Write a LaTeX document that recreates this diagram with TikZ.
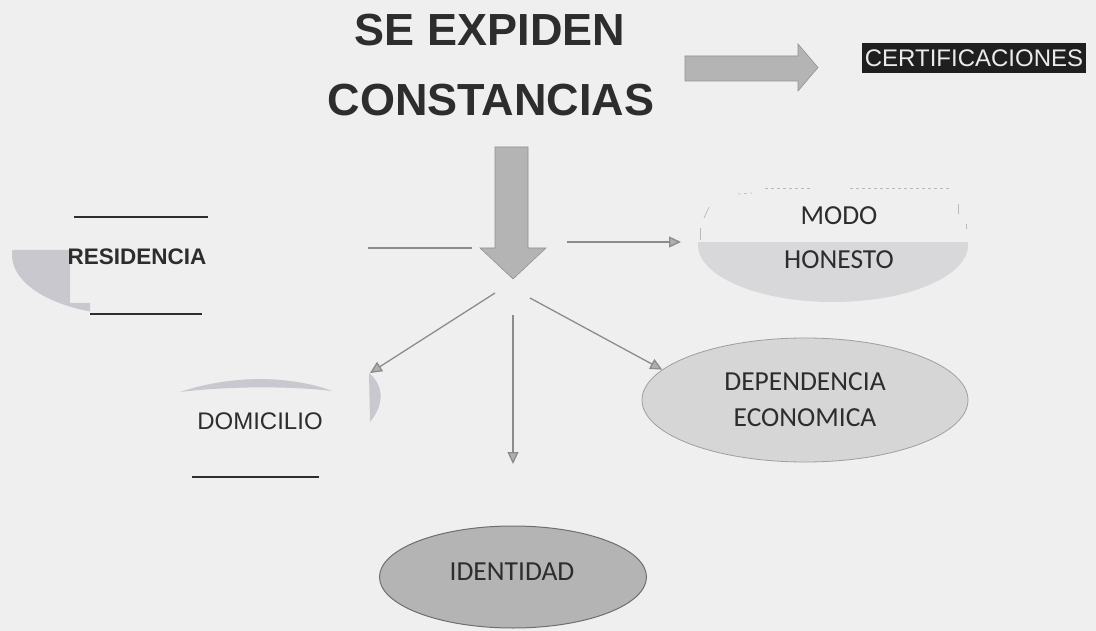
\documentclass[tikz,border=0pt]{standalone}
\usepackage{fontspec}
\setmainfont{Liberation Sans}
\newfontfamily\carl{Carlito}
\usetikzlibrary{arrows.meta,shapes.geometric}
\definecolor{paper}{RGB}{239,239,239}
\definecolor{patch}{RGB}{244,244,244}
\definecolor{ink}{RGB}{45,45,45}
\definecolor{arrowfill}{RGB}{180,180,180}
\definecolor{arrowedge}{RGB}{145,145,145}
\definecolor{connc}{RGB}{140,140,140}
\definecolor{sliver}{RGB}{200,200,206}
\definecolor{depfill}{RGB}{214,214,214}
\definecolor{depedge}{RGB}{158,158,158}
\definecolor{idfill}{RGB}{180,180,180}
\definecolor{idedge}{RGB}{110,110,110}
\definecolor{modofill}{RGB}{216,216,218}
\begin{document}
\begin{tikzpicture}[x=1pt,y=-1pt,
  title/.style={inner sep=0pt, text=ink, font=\bfseries\fontsize{45}{50}\selectfont},
  cert/.style={fill=black!88, text=white!92!black, inner sep=0pt, minimum width=224pt, minimum height=30pt, font=\fontsize{24}{26}\selectfont},
  bigarrow/.style={fill=arrowfill, draw=arrowedge, line width=0.6pt},
  conn/.style={draw=connc, line width=1.3pt, -{Triangle[length=12pt,width=11pt,fill=connc!70]}},
  plainline/.style={draw=connc, line width=1.3pt},
  rule/.style={draw=ink, line width=1.6pt},
  lbl/.style={inner sep=0pt, text=ink},
  oval/.style={shape=ellipse, inner sep=0pt, text=ink, align=center, font=\carl\fontsize{27.5}{36}\selectfont},
  faint/.style={draw=gray!55, line width=0.6pt, dashed},
  faintsolid/.style={draw=gray!55, line width=0.7pt}
]
% background / page
\fill[paper] (0,0) rectangle (1096,631);
\useasboundingbox (0,0) rectangle (1096,631);

% title
\node[title] (t1) at (490,30) {SE EXPIDEN};
\node[title] (t2) at (491,100) {CONSTANCIAS};

% certificaciones
\node[cert] (cert) at (974,58) {CERTIFICACIONES};

% big arrows
\path[bigarrow] (685,56) -- (798,56) -- (798,44) -- (818,67.5) -- (798,91) -- (798,81) -- (685,81) -- cycle;
\path[bigarrow] (495,147) -- (528,147) -- (528,248) -- (546,248) -- (513,279) -- (480,248) -- (495,248) -- cycle;

% RESIDENCIA
\begin{scope}
  \clip (0,250) rectangle (70,320) (70,303) rectangle (90,320);
  \fill[sliver] (130,255) ellipse [x radius=118pt, y radius=60pt];
\end{scope}
\draw[rule] (74,217) -- (208,217);
\draw[rule] (90,314) -- (202,314);
\node[lbl, font=\bfseries\fontsize{22.5}{26}\selectfont] (res) at (137,257) {RESIDENCIA};

% DOMICILIO
\fill[sliver] (180,392) .. controls (230,375) and (290,375) .. (332,391)
              .. controls (290,386) and (230,386) .. (180,392) -- cycle;
\fill[sliver] (369,373) .. controls (380,382) and (388,400) .. (370,422) -- cycle;
\node[lbl, font=\fontsize{24}{28}\selectfont] (dom) at (260,421) {DOMICILIO};
\draw[rule] (192,477) -- (319,477);

% MODO HONESTO
\begin{scope}
  \clip (690,243) rectangle (980,310);
  \fill[modofill] (833,245) ellipse [x radius=135pt, y radius=57pt];
\end{scope}
\draw[faint] (765,188) -- (810,188);
\draw[faint] (850,188) -- (950,188);
\draw[faint] (738,194) -- (752,193);
\draw[faintsolid] (704,218) -- (709,207);
\draw[faintsolid] (700,228) -- (700,240);
\draw[faintsolid] (958,204) -- (958,214);
\draw[faintsolid] (966,224) -- (966,229);
\node[oval, minimum width=270pt, minimum height=114pt] (modo) at (839,238) {MODO\\[8pt]HONESTO};

% DEPENDENCIA ECONOMICA
\node[oval, fill=depfill, draw=depedge, line width=0.8pt, minimum width=326pt, minimum height=124pt] (dep) at (805,400) {DEPENDENCIA\\ECONOMICA};

% IDENTIDAD
\node[oval, fill=idfill, draw=idedge, line width=1pt, minimum width=267pt, minimum height=102pt] (ident) at (513,577) {};
\node[lbl, font=\carl\fontsize{27.5}{32}\selectfont] (idtxt) at (512,572) {IDENTIDAD};

% connectors
\coordinate (lineA) at (368,248);
\coordinate (lineB) at (472,248);
\coordinate (hubE) at (567,242);
\coordinate (modotip) at (681,242);
\coordinate (hubL) at (495,293);
\coordinate (domtip) at (370,373);
\coordinate (hubR) at (530,298);
\coordinate (hubD) at (513,315);
\coordinate (idtip) at (513,464);

\draw[plainline] (lineA) -- (lineB);
\draw[conn] (hubE) -- (modotip);
\draw[conn] (hubL) -- (domtip);
\draw[conn] (hubR) -- (dep.168);
\draw[conn] (hubD) -- (idtip);
\end{tikzpicture}
\end{document}
